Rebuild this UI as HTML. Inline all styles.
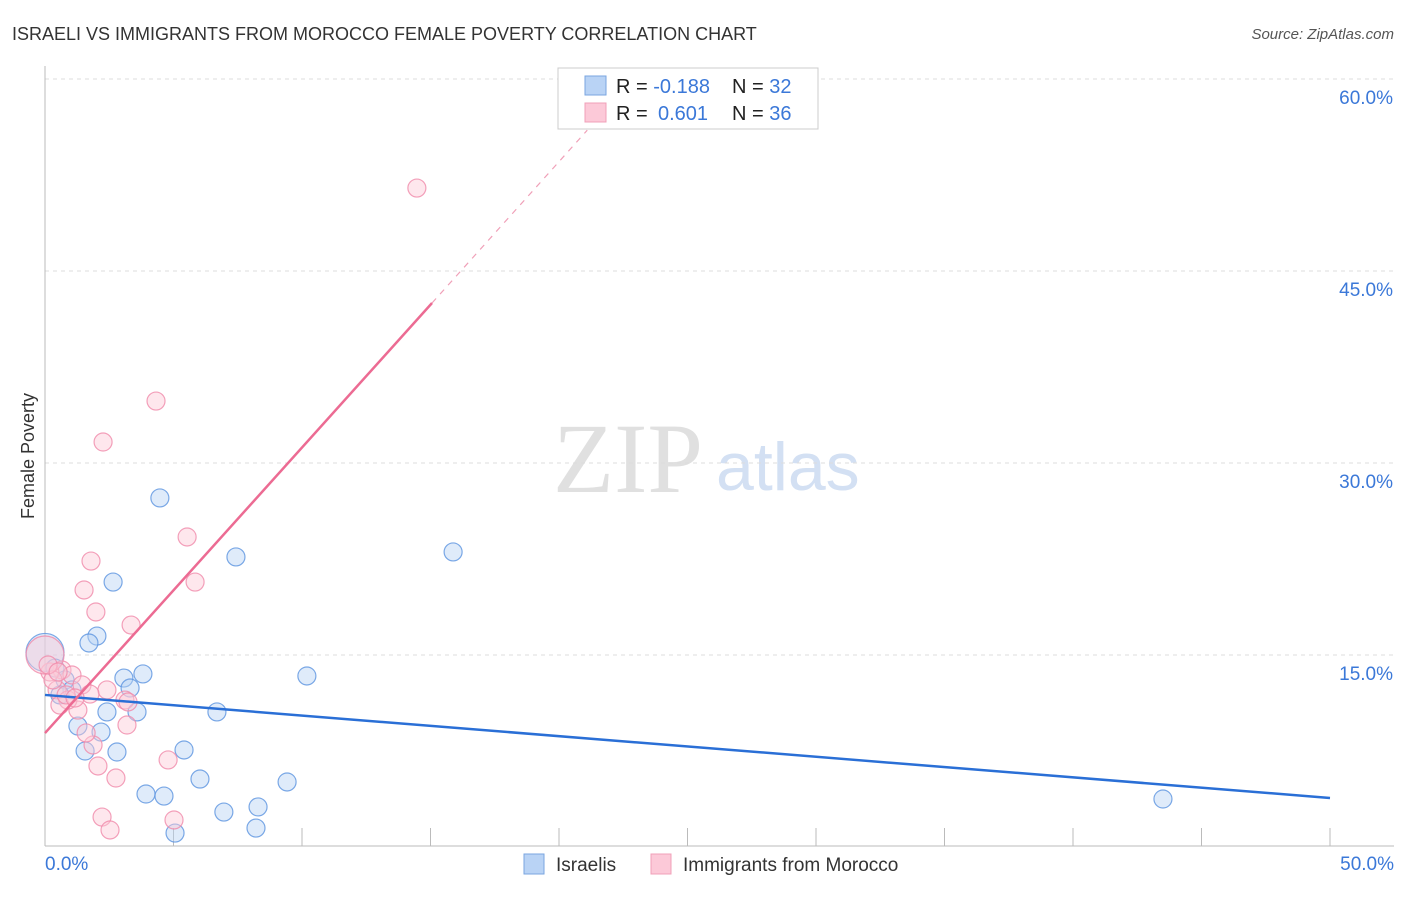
<!DOCTYPE html>
<html><head><meta charset="utf-8"><style>
body{margin:0;background:#fff;font-family:"Liberation Sans",sans-serif}
</style></head><body>
<svg id="chart" width="1406" height="892" font-family="Liberation Sans, sans-serif">
<text x="12" y="40" font-size="18" fill="#333">ISRAELI VS IMMIGRANTS FROM MOROCCO FEMALE POVERTY CORRELATION CHART</text>
<text x="1394" y="39" font-size="15" fill="#555" font-style="italic" text-anchor="end">Source: ZipAtlas.com</text>
<text x="34" y="456" font-size="18" fill="#333" text-anchor="middle" transform="rotate(-90 34 456)">Female Poverty</text>
<text x="553" y="492" font-size="100" fill="#e0e0e0" style="font-family:'Liberation Serif',serif">ZIP</text>
<text x="716" y="490" font-size="68" fill="#d3e0f3">atlas</text>
<g id="grid"></g><g id="axes"></g><g id="pts"></g><g id="lines"></g>
<g>
<rect x="558" y="68" width="260" height="61" fill="#fff" stroke="#ccc"/>
<rect x="585" y="76" width="21" height="19" fill="#b9d3f5" stroke="#7aa6e0"/>
<rect x="585" y="103" width="21" height="19" fill="#fcc9d8" stroke="#f0a0b8"/>
<text x="616" y="93" font-size="20" fill="#222">R = <tspan fill="#3b78d8">-0.188</tspan></text>
<text x="732" y="93" font-size="20" fill="#222">N = <tspan fill="#3b78d8">32</tspan></text>
<text x="616" y="120" font-size="20" fill="#222">R = <tspan fill="#3b78d8" x="658">0.601</tspan></text>
<text x="732" y="120" font-size="20" fill="#222">N = <tspan fill="#3b78d8">36</tspan></text>
</g>
<g>
<rect x="524" y="854" width="20" height="20" fill="#b9d3f5" stroke="#7aa6e0"/>
<text x="556" y="871" font-size="19" fill="#333">Israelis</text>
<rect x="651" y="854" width="20" height="20" fill="#fcc9d8" stroke="#f0a0b8"/>
<text x="683" y="871" font-size="19" fill="#333">Immigrants from Morocco</text>
</g>
</svg>
<script>
const yTicks=[15,30,45,60];
const yTickLabels=["15.0%","30.0%","45.0%","60.0%"];
const xTickLabels=["0.0%","50.0%"];
const israeliX=[4.47,7.43,15.88,2.65,2.02,1.71,3.81,3.07,3.31,10.19,2.41,3.58,6.69,1.28,2.18,1.56,2.80,5.41,6.03,9.42,3.93,4.63,6.96,8.29,8.21,5.06,43.5,0,0.39,0.78,1.05,0.58];
const israeliY=[27.27,22.66,23.05,20.70,16.48,15.94,13.52,13.20,12.42,13.36,10.55,10.55,10.55,9.45,8.98,7.50,7.42,7.58,5.31,5.08,4.14,3.98,2.73,3.13,1.48,1.09,3.75,15.2,13.98,13.05,12.27,11.88];
const moroccoX=[14.47,4.32,2.26,5.53,1.79,1.52,5.84,1.98,3.35,0.66,1.05,0.19,0.47,1.44,2.41,1.75,3.11,3.23,1.28,0.89,0.58,1.87,3.19,1.60,2.06,2.76,4.79,2.22,2.53,5.02,0,0.31,0.82,1.17,0.12,0.51];
const moroccoY=[51.48,34.84,31.64,24.22,22.34,20.08,20.70,18.36,17.34,13.83,13.44,13.67,12.27,12.66,12.27,11.95,11.48,11.33,10.70,11.48,11.09,7.97,9.53,8.91,6.33,5.39,6.80,2.34,1.33,2.11,15.0,13.05,11.88,11.64,14.22,13.67];
const israeliTrend=[[0,11.88],[50,3.83]];
const moroccoTrendSolid=[[0,8.9],[15.06,42.5]];
const moroccoTrendDash=[[15.06,42.5],[21.1,56]];
const NS="http://www.w3.org/2000/svg";
const sx=v=>45+v/50*1285, sy=v=>847-v/15*192;
function mk(tag,attrs,parent){const e=document.createElementNS(NS,tag);for(const k in attrs)e.setAttribute(k,attrs[k]);document.getElementById(parent).appendChild(e);return e;}
yTicks.forEach((t,i)=>{
 const g=mk('line',{x1:45,x2:1394,y1:sy(t),y2:sy(t),stroke:'#ddd','stroke-dasharray':'4,4'},'grid');
 
 
 const l=mk('text',{x:1393,y:sy(t)+25,'font-size':19,fill:'#3b78d8','text-anchor':'end'},'grid');l.textContent=yTickLabels[i];
 
 
});
let a=mk('line',{x1:45,x2:45,y1:66,y2:846,stroke:'#bbb'},'axes');


a=mk('line',{x1:45,x2:1394,y1:846,y2:846,stroke:'#bbb'},'axes');


for(let i=1;i<=10;i++){const t=mk('line',{x1:sx(i*5),x2:sx(i*5),y1:828,y2:846,stroke:'#bbb'},'axes');
 
 }
[[0,'start',45],[50,'end',1394]].forEach((d,i)=>{const t=mk('text',{x:d[2],y:870,'font-size':19,fill:'#3b78d8','text-anchor':d[1]},'axes');t.textContent=xTickLabels[i];
 
 });
function pts(X,Y,fill,stroke,name){X.forEach((x,i)=>{const big=(x===0);const c=mk('circle',{cx:sx(x),cy:sy(Y[i]),r:big?19:9,fill:fill,'fill-opacity':0.45,stroke:stroke,'stroke-opacity':0.8,'stroke-width':1.2},'pts');
 
 });}
pts(israeliX,israeliY,'#b9d3f5','#5b93e0','israeli-point');
pts(moroccoX,moroccoY,'#fcc9d8','#f08aaa','morocco-point');
function ln(p,color,dash,name,w){const l=mk('line',{x1:sx(p[0][0]),y1:sy(p[0][1]),x2:sx(p[1][0]),y2:sy(p[1][1]),stroke:color,'stroke-width':w},'lines');if(dash)l.setAttribute('stroke-dasharray',dash);
 
 }
ln(israeliTrend,'#2a6fd6',null,'israeli-trendline',2.5);
ln(moroccoTrendSolid,'#ec6b93',null,'morocco-trendline',2.5);
ln(moroccoTrendDash,'#f0a0b8','6,6','morocco-trendline-extension',1.2);
</script>
</body></html>
